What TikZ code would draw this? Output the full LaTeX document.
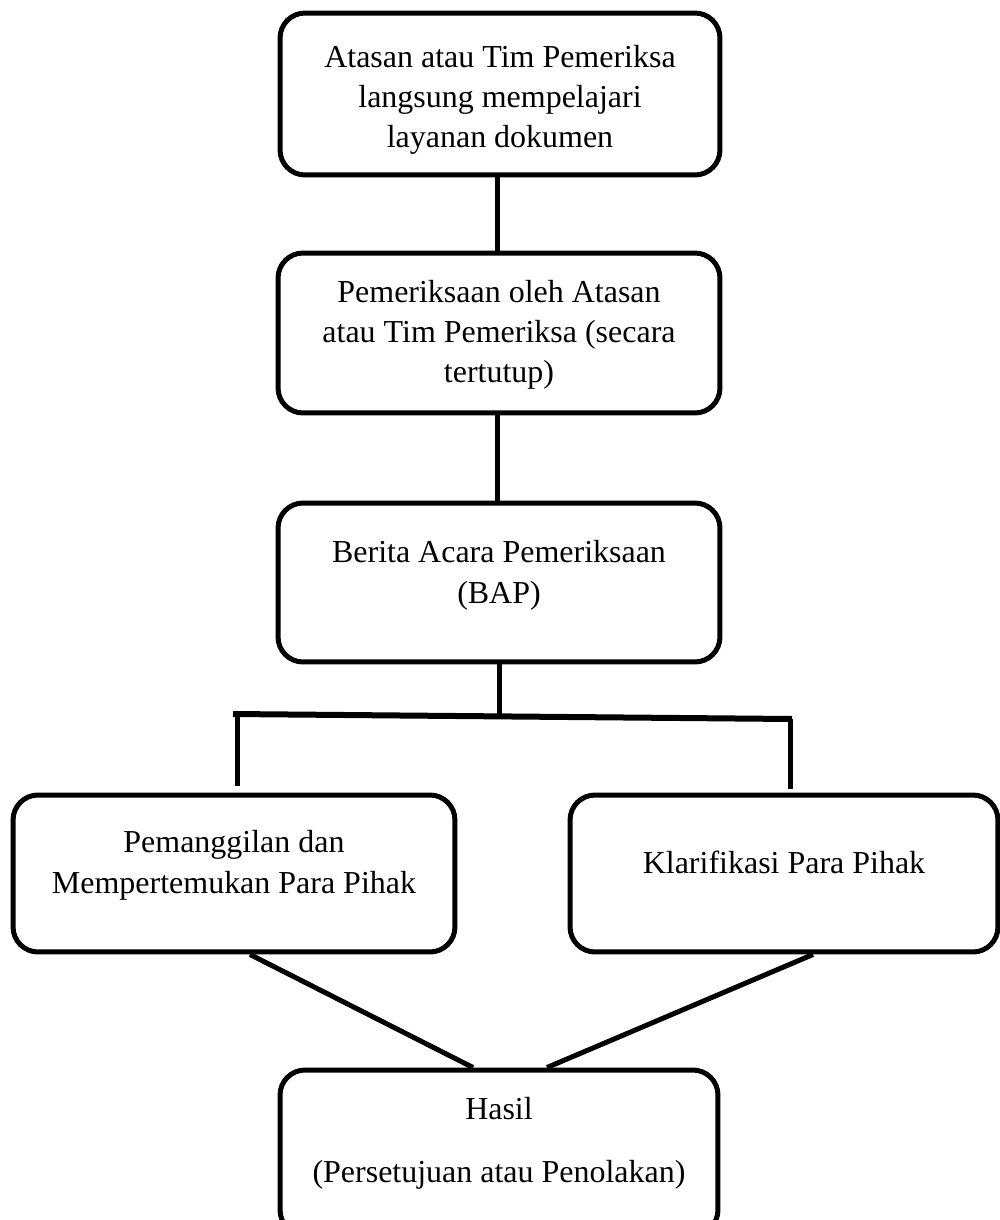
\documentclass[tikz,border=0pt]{standalone}
\usepackage{fontspec}
\setmainfont{Liberation Serif}

\begin{document}
\begin{tikzpicture}[x=0.02cm, y=-0.02cm,
  kotak/.style={draw, line width=0.1cm, rounded corners=0.5cm, align=center,
    inner sep=0pt, font=\fontsize{18.2}{22.8}\selectfont},
  baris/.style={text height=#1, text depth=0pt},
  garis/.style={line width=0.1cm}]

\clip (0,0) rectangle (1000,1220);

% Boxes
\node[kotak, baris=2.16cm, minimum width=8.8cm, minimum height=3.24cm] (atasan) at (500,94)
  {Atasan atau Tim Pemeriksa\\langsung mempelajari\\layanan dokumen};
\node[kotak, baris=2cm, minimum width=8.84cm, minimum height=3.2cm] (periksa) at (499,333)
  {Pemeriksaan oleh Atasan\\atau Tim Pemeriksa (secara\\tertutup)};
\node[kotak, baris=0.82cm, minimum width=8.84cm, minimum height=3.18cm] (bap) at (499,582.5)
  {Berita Acara Pemeriksaan\\(BAP)};
\node[kotak, baris=0.78cm, minimum width=8.84cm, minimum height=3.14cm] (panggil) at (234,873.5)
  {Pemanggilan dan\\Mempertemukan Para Pihak};
\node[kotak, baris=0cm, minimum width=8.56cm, minimum height=3.14cm] (klarifikasi) at (784,873.5)
  {Klarifikasi Para Pihak};
\node[kotak, baris=1.18cm, minimum width=8.76cm, minimum height=3.3cm] (hasil) at (499,1152.5)
  {Hasil\\[13pt](Persetujuan atau Penolakan)};

% Branch points
\coordinate (cabkiri) at (233,714);
\coordinate (cabkanan) at (792,719);
\coordinate (turunkiri) at (237,715);
\coordinate (turunkanan) at (790,719);

% Lines
\draw[garis] (atasan.south -| 497,0) -- (periksa.north -| 497,0);
\draw[garis] (periksa.south -| 497,0) -- (bap.north -| 497,0);
\draw[garis] (bap.south) -- (bap.south |- cabkiri);
\draw[line width=0.12cm] (cabkiri) -- (cabkanan);
\draw[garis, shorten >=0.14cm] (turunkiri) -- (turunkiri |- panggil.north);
\draw[garis, shorten >=0.08cm] (turunkanan) -- (turunkanan |- klarifikasi.north);
\draw[garis] (panggil.south -| 250,0) -- (hasil.north -| 473,0);
\draw[garis] (klarifikasi.south -| 813,0) -- (hasil.north -| 547,0);

\end{tikzpicture}
\end{document}
